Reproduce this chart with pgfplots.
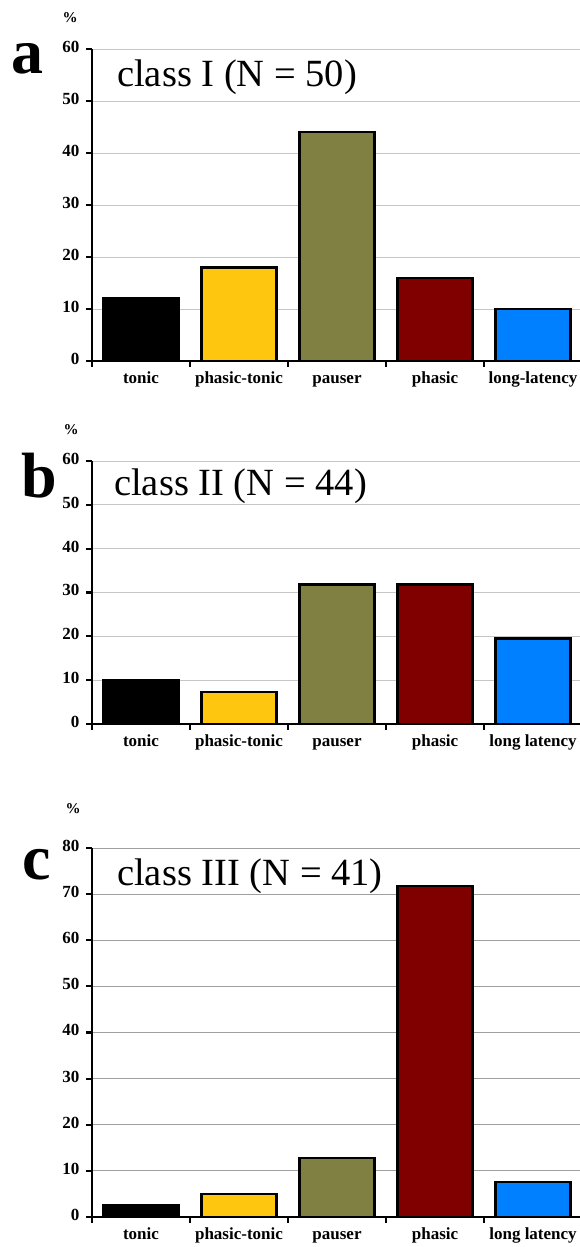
\documentclass[border=0pt]{standalone}
\usepackage{fontspec}
\setmainfont{Liberation Serif}
\usepackage{pgfplots}
\pgfplotsset{compat=1.18}
\definecolor{cTonic}{RGB}{0,0,0}
\definecolor{cPT}{RGB}{255,198,16}
\definecolor{cPauser}{RGB}{128,128,66}
\definecolor{cPhasic}{RGB}{128,0,0}
\definecolor{cLong}{RGB}{0,128,255}
\pgfplotsset{
  panel/.style={
    scale only axis,
    width=490pt,
    xmin=0, xmax=5, ymin=0,
    axis x line=bottom, axis y line=left,
    axis line style={-, line width=2.6pt},
    xtick={0.5,1.5,2.5,3.5,4.5},
    minor xtick={0,1,2,3,4,5},
    major x tick style={draw=none},
    minor x tick style={black, line width=2.2pt},
    y tick style={black, line width=2.2pt},
    major tick length=6pt, minor tick length=6pt,
    tick align=outside,
    ymajorgrids,
    grid style={gray!45, line width=0.9pt},
    /pgf/number format/assume math mode=true,
    typeset ticklabels with strut,
    yticklabel style={font=\fontsize{17}{17}\selectfont\bfseries, xshift=-3pt},
    xticklabel style={font=\fontsize{17}{17}\selectfont\bfseries, yshift=-1.5pt},
    ybar, bar shift=0pt, bar width=0.765,
    clip=false,
  },
  bb/.style={ybar, draw=black, line width=2.3pt, fill=#1},
}
\begin{document}
\begin{tikzpicture}[x=1pt,y=1pt]
% Panel a
\begin{axis}[panel, at={(92pt,886pt)}, anchor=south west, height=312pt, ymax=60,
  ytick={0,10,...,60},
  xticklabels={tonic,phasic-tonic,pauser,phasic,long-latency}]
\addplot[bb=cTonic] coordinates {(0.5,12)};
\addplot[bb=cPT] coordinates {(1.5,18)};
\addplot[bb=cPauser] coordinates {(2.5,44)};
\addplot[bb=cPhasic] coordinates {(3.5,16)};
\addplot[bb=cLong] coordinates {(4.5,10)};
\end{axis}
% Panel b
\begin{axis}[panel, at={(92pt,523pt)}, anchor=south west, height=263pt, ymax=60,
  ytick={0,10,...,60},
  xticklabels={tonic,phasic-tonic,pauser,phasic,long latency}]
\addplot[bb=cTonic] coordinates {(0.5,10)};
\addplot[bb=cPT] coordinates {(1.5,7.3)};
\addplot[bb=cPauser] coordinates {(2.5,31.8)};
\addplot[bb=cPhasic] coordinates {(3.5,31.8)};
\addplot[bb=cLong] coordinates {(4.5,19.5)};
\end{axis}
% Panel c
\begin{axis}[panel, at={(92pt,30pt)}, anchor=south west, height=369pt, ymax=80,
  ytick={0,10,...,80}, grid style={gray!75, line width=0.9pt},
  xticklabels={tonic,phasic-tonic,pauser,phasic,long latency}]
\addplot[bb=cTonic] coordinates {(0.5,2.5)};
\addplot[bb=cPT] coordinates {(1.5,5)};
\addplot[bb=cPauser] coordinates {(2.5,12.8)};
\addplot[bb=cPhasic] coordinates {(3.5,71.8)};
\addplot[bb=cLong] coordinates {(4.5,7.6)};
\end{axis}
% titles
\node[anchor=base west, inner sep=0pt, font=\fontsize{38.5}{38.5}\selectfont] at (117pt,1160pt) {class I (N = 50)};
\node[anchor=base west, inner sep=0pt, font=\fontsize{38.5}{38.5}\selectfont] at (114pt,751pt) {class II (N = 44)};
\node[anchor=base west, inner sep=0pt, font=\fontsize{38.5}{38.5}\selectfont] at (117pt,361pt) {class III (N = 41)};
% panel letters
\node[anchor=base, inner sep=0pt, font=\fontsize{64}{64}\selectfont\bfseries] at (27pt,1173pt) {a};
\node[anchor=base, inner sep=0pt, font=\fontsize{64}{64}\selectfont\bfseries] at (39pt,749pt) {b};
\node[anchor=base, inner sep=0pt, font=\fontsize{64}{64}\selectfont\bfseries] at (37pt,367pt) {c};
% percent signs
\node[inner sep=0pt, font=\fontsize{15}{15}\selectfont\bfseries] at (70pt,1229pt) {\%};
\node[inner sep=0pt, font=\fontsize{15}{15}\selectfont\bfseries] at (71pt,817pt) {\%};
\node[inner sep=0pt, font=\fontsize{15}{15}\selectfont\bfseries] at (73pt,438pt) {\%};
\pgfresetboundingbox
\useasboundingbox (0,0) rectangle (579pt,1247pt);
\end{tikzpicture}
\end{document}
